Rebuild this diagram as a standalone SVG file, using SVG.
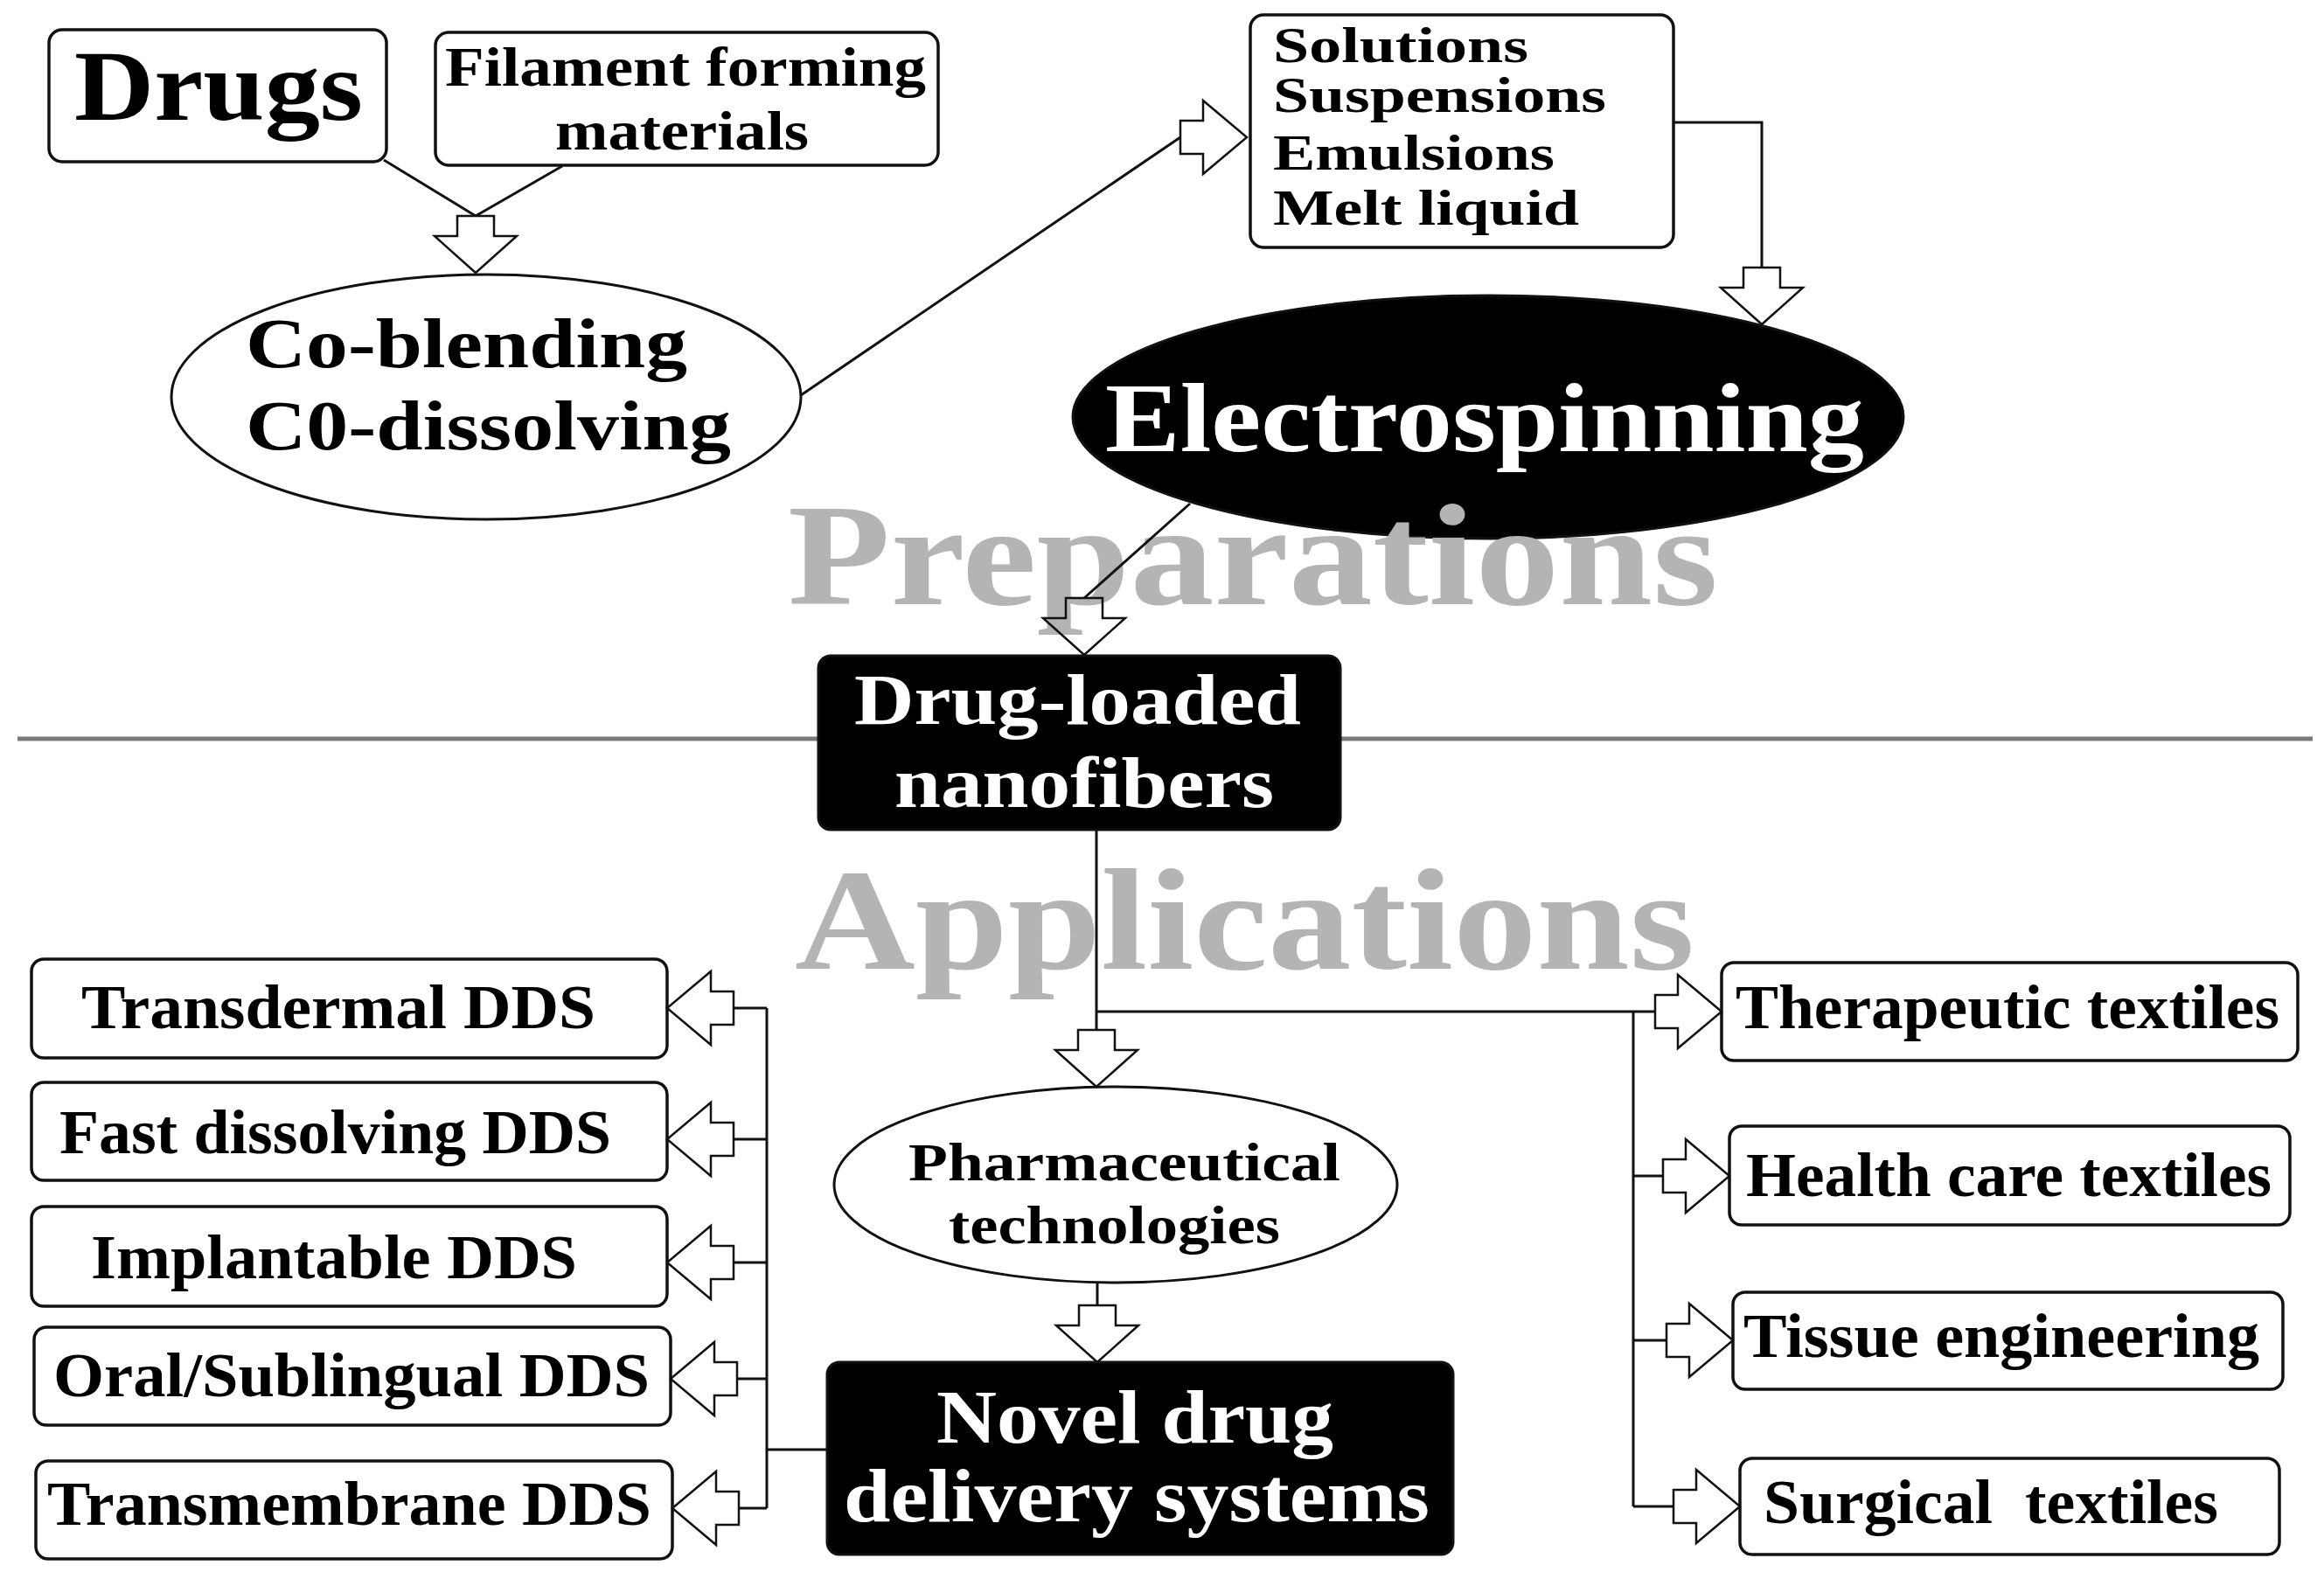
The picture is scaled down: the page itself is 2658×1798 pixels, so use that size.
<svg xmlns="http://www.w3.org/2000/svg" xmlns:xlink="http://www.w3.org/1999/xlink" width="2658" height="1798" viewBox="0 0 2658 1798">
<style>
  text { font-family: "Liberation Serif", "Times New Roman", serif; font-weight: bold; }
  .box { fill: #ffffff; stroke: #111111; stroke-width: 3.5; }
  .dark { fill: #000000; stroke: #111111; stroke-width: 3; }
  .ell { fill: #ffffff; stroke: #111111; stroke-width: 3; }
  .lbl { fill: #000000; }
  .wlbl { fill: #ffffff; }
  .wm { fill: #b4b4b4; font-size: 166px; }
  .conn { fill: none; stroke: #111111; stroke-width: 3; }
  .arr { fill: none; stroke: #111111; stroke-width: 2.5; stroke-linejoin: miter; }
  .sep { stroke: #7a7a7a; stroke-width: 5; }
</style>
<defs>
  <polygon id="arrV" class="arr" points="-21,-65 21,-65 21,-42 47,-42 0,0 -47,-42 -21,-42"/>
  <polygon id="arrH" class="arr" points="-76,-19 -50,-19 -50,-42 0,0 -50,42 -50,19 -76,19"/>
</defs>
<rect x="0" y="0" width="2658" height="1798" fill="#ffffff"/>

<line class="sep" x1="20" y1="845" x2="2645" y2="845"/>

<g id="drugs">
  <rect class="box" x="56" y="34" width="386" height="151" rx="15"/>
  <text class="lbl" x="85" y="137" font-size="115" textLength="330" lengthAdjust="spacingAndGlyphs">Drugs</text>
</g>
<g id="filament">
  <rect class="box" x="498" y="37" width="575" height="152" rx="15"/>
  <text class="lbl" x="509" y="98" font-size="64" textLength="550" lengthAdjust="spacingAndGlyphs">Filament forming</text>
  <text class="lbl" x="635" y="171" font-size="64" textLength="290" lengthAdjust="spacingAndGlyphs">materials</text>
</g>
<g id="coblending">
  <ellipse class="ell" cx="556" cy="454" rx="360" ry="140"/>
  <text class="lbl" x="281" y="420" font-size="80" textLength="505" lengthAdjust="spacingAndGlyphs">Co-blending</text>
  <text class="lbl" x="281" y="514" font-size="80" textLength="555" lengthAdjust="spacingAndGlyphs">C0-dissolving</text>
</g>
<g id="solutions">
  <rect class="box" x="1430" y="17" width="484" height="266" rx="15"/>
  <text class="lbl" x="1456" y="71" font-size="57" textLength="292" lengthAdjust="spacingAndGlyphs">Solutions</text>
  <text class="lbl" x="1456" y="128" font-size="57" textLength="381" lengthAdjust="spacingAndGlyphs">Suspensions</text>
  <text class="lbl" x="1456" y="194" font-size="57" textLength="322" lengthAdjust="spacingAndGlyphs">Emulsions</text>
  <text class="lbl" x="1456" y="257" font-size="57" textLength="350" lengthAdjust="spacingAndGlyphs">Melt liquid</text>
</g>
<g id="electrospinning">
  <ellipse class="dark" cx="1702" cy="477" rx="475" ry="139"/>
  <text class="wlbl" x="1264" y="516" font-size="112" textLength="868" lengthAdjust="spacingAndGlyphs">Electrospinning</text>
</g>
<g id="drugloaded">
  <rect class="dark" x="936" y="750" width="597" height="199" rx="14"/>
  <text class="wlbl" x="977" y="828" font-size="82" textLength="511" lengthAdjust="spacingAndGlyphs">Drug-loaded</text>
  <text class="wlbl" x="1023" y="923" font-size="82" textLength="434" lengthAdjust="spacingAndGlyphs">nanofibers</text>
</g>
<g id="pharma">
  <ellipse class="ell" cx="1276" cy="1355" rx="322" ry="112"/>
  <text class="lbl" x="1039" y="1350" font-size="61" textLength="494" lengthAdjust="spacingAndGlyphs">Pharmaceutical</text>
  <text class="lbl" x="1085" y="1422" font-size="61" textLength="379" lengthAdjust="spacingAndGlyphs">technologies</text>
</g>
<g id="novel">
  <rect class="dark" x="946" y="1558" width="716" height="220" rx="14"/>
  <text class="wlbl" x="1071" y="1650" font-size="86" textLength="454" lengthAdjust="spacingAndGlyphs">Novel drug</text>
  <text class="wlbl" x="965" y="1740" font-size="86" textLength="670" lengthAdjust="spacingAndGlyphs">delivery systems</text>
</g>

<g id="transdermal">
  <rect class="box" x="36" y="1097" width="727" height="113" rx="14"/>
  <text class="lbl" x="93" y="1176" font-size="72" textLength="588" lengthAdjust="spacingAndGlyphs">Transdermal DDS</text>
</g>
<g id="fastdissolving">
  <rect class="box" x="36" y="1238" width="727" height="112" rx="14"/>
  <text class="lbl" x="68" y="1319" font-size="72" textLength="631" lengthAdjust="spacingAndGlyphs">Fast dissolving DDS</text>
</g>
<g id="implantable">
  <rect class="box" x="36" y="1380" width="727" height="114" rx="14"/>
  <text class="lbl" x="104" y="1462" font-size="72" textLength="556" lengthAdjust="spacingAndGlyphs">Implantable DDS</text>
</g>
<g id="oral">
  <rect class="box" x="39" y="1518" width="728" height="112" rx="14"/>
  <text class="lbl" x="61" y="1597" font-size="72" textLength="682" lengthAdjust="spacingAndGlyphs">Oral/Sublingual DDS</text>
</g>
<g id="transmembrane">
  <rect class="box" x="41" y="1671" width="728" height="112" rx="14"/>
  <text class="lbl" x="54" y="1744" font-size="72" textLength="691" lengthAdjust="spacingAndGlyphs">Transmembrane DDS</text>
</g>

<g id="therapeutic">
  <rect class="box" x="1969" y="1101" width="659" height="112" rx="14"/>
  <text class="lbl" x="1985" y="1176" font-size="72" textLength="622" lengthAdjust="spacingAndGlyphs">Therapeutic textiles</text>
</g>
<g id="healthcare">
  <rect class="box" x="1978" y="1288" width="641" height="113" rx="14"/>
  <text class="lbl" x="1997" y="1368" font-size="72" textLength="601" lengthAdjust="spacingAndGlyphs">Health care textiles</text>
</g>
<g id="tissue">
  <rect class="box" x="1982" y="1478" width="629" height="111" rx="14"/>
  <text class="lbl" x="1994" y="1552" font-size="72" textLength="590" lengthAdjust="spacingAndGlyphs">Tissue engineering</text>
</g>
<g id="surgical">
  <rect class="box" x="1990" y="1668" width="617" height="110" rx="14"/>
  <text class="lbl" x="2017" y="1742" font-size="72" textLength="520" lengthAdjust="spacingAndGlyphs" style="white-space:pre">Surgical  textiles</text>
</g>

<g id="watermarks">
  <text class="wm" x="901" y="691" textLength="1064" lengthAdjust="spacingAndGlyphs">Preparations</text>
  <text class="wm" x="909" y="1108" textLength="1029" lengthAdjust="spacingAndGlyphs">Applications</text>
</g>

<g id="connectors">
  <line class="conn" x1="439" y1="183" x2="544" y2="247"/>
  <line class="conn" x1="643" y1="190" x2="544" y2="247"/>
  <use href="#arrV" transform="translate(544,312)"/>

  <line class="conn" x1="916" y1="452" x2="1350" y2="157"/>
  <use href="#arrH" transform="translate(1426,157)"/>

  <polyline class="conn" points="1914,140 2015,140 2015,306"/>
  <use href="#arrV" transform="translate(2015,371)"/>

  <line class="conn" x1="1361" y1="576" x2="1240" y2="684"/>
  <use href="#arrV" transform="translate(1240,749)"/>

  <line class="conn" x1="1254" y1="949" x2="1254" y2="1178"/>
  <use href="#arrV" transform="translate(1254,1243)"/>
  <line class="conn" x1="1254" y1="1157" x2="1893" y2="1157"/>
  <line class="conn" x1="1868" y1="1157" x2="1868" y2="1723"/>
  <line class="conn" x1="1868" y1="1345" x2="1902" y2="1345"/>
  <line class="conn" x1="1868" y1="1533" x2="1906" y2="1533"/>
  <line class="conn" x1="1868" y1="1723" x2="1914" y2="1723"/>
  <use href="#arrH" transform="translate(1969,1157)"/>
  <use href="#arrH" transform="translate(1978,1345)"/>
  <use href="#arrH" transform="translate(1982,1533)"/>
  <use href="#arrH" transform="translate(1990,1723)"/>

  <line class="conn" x1="1255" y1="1467" x2="1255" y2="1494"/>
  <use href="#arrV" transform="translate(1255,1558)"/>

  <line class="conn" x1="946" y1="1658" x2="877" y2="1658"/>
  <line class="conn" x1="877" y1="1153" x2="877" y2="1725"/>
  <line class="conn" x1="877" y1="1153" x2="839" y2="1153"/>
  <line class="conn" x1="877" y1="1303" x2="839" y2="1303"/>
  <line class="conn" x1="877" y1="1444" x2="839" y2="1444"/>
  <line class="conn" x1="877" y1="1577" x2="843" y2="1577"/>
  <line class="conn" x1="877" y1="1725" x2="845" y2="1725"/>
  <use href="#arrH" transform="translate(763,1153) scale(-1,1)"/>
  <use href="#arrH" transform="translate(763,1303) scale(-1,1)"/>
  <use href="#arrH" transform="translate(763,1444) scale(-1,1)"/>
  <use href="#arrH" transform="translate(767,1577) scale(-1,1)"/>
  <use href="#arrH" transform="translate(769,1725) scale(-1,1)"/>
</g>
</svg>
